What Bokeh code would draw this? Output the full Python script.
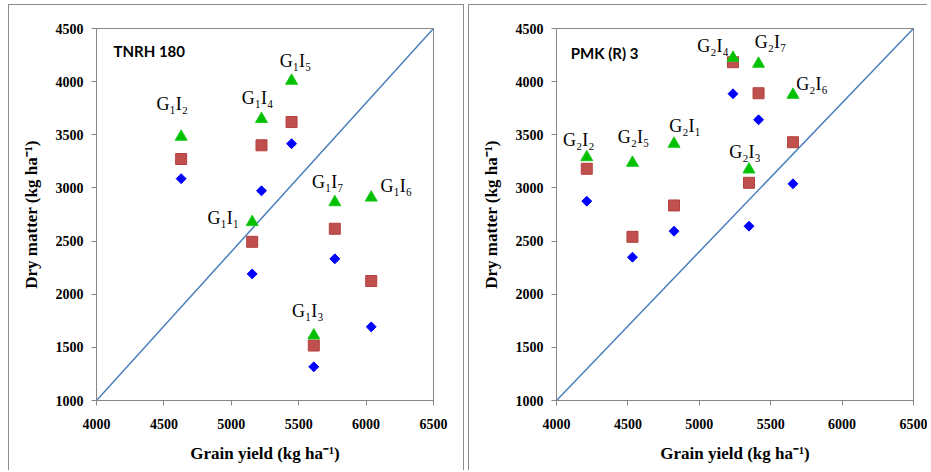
from bokeh.plotting import figure
from bokeh.layouts import row
from bokeh.models import ColumnDataSource, Label, Range1d, FixedTicker
from bokeh.embed import file_html
from bokeh.resources import INLINE
from bokeh.core.properties import value

# ---- data ----
x_lim = [4000, 6500]
y_lim = [1000, 4500]
x_ticks = [4000, 4500, 5000, 5500, 6000, 6500]
y_ticks = [1000, 1500, 2000, 2500, 3000, 3500, 4000, 4500]

g1_labels = ["G\u2081I\u2081", "G\u2081I\u2082", "G\u2081I\u2083", "G\u2081I\u2084",
             "G\u2081I\u2085", "G\u2081I\u2086", "G\u2081I\u2087"]
g1_yield = [5155, 4628, 5612, 5224, 5447, 6038, 5768]
g1_dm_tri = [2678, 3481, 1612, 3648, 4008, 2909, 2865]
g1_dm_sq = [2493, 3272, 1517, 3401, 3620, 2124, 2616]
g1_dm_dia = [2191, 3087, 1317, 2973, 3416, 1693, 2333]

g2_labels = ["G\u2082I\u2081", "G\u2082I\u2082", "G\u2082I\u2083", "G\u2082I\u2084",
             "G\u2082I\u2085", "G\u2082I\u2086", "G\u2082I\u2087"]
g2_yield = [4823, 4212, 5348, 5236, 4532, 5656, 5415]
g2_dm_tri = [3415, 3289, 3173, 4224, 3236, 3876, 4168]
g2_dm_sq = [2835, 3180, 3048, 4183, 2540, 3430, 3891]
g2_dm_dia = [2593, 2875, 2640, 3886, 2348, 3039, 3641]

# label pixel offsets (style)
g1_dx = [-29, -9, -6, -4, 4, 25, -7]
g1_dy = [-4, -33, -24, -21, -20, -12, -20]
g2_dx = [11, -8, -4, -20, 1, 19, 12]
g2_dy = [-18, -17, -18, -12, -26, -11, -22]

AXIS_COL = "#868686"
SERIF = "Liberation Serif"


def make_panel(name, name_xy, yld, tri, sq, dia, labels, dx, dy,
               width, height, mbl, mbr, mbt, mbb, styles):
    p = figure(width=width, height=height,
               x_range=Range1d(x_lim[0], x_lim[1]), y_range=Range1d(y_lim[0], y_lim[1]),
               output_backend="svg", toolbar_location=None,
               min_border_left=mbl, min_border_right=mbr,
               min_border_top=mbt, min_border_bottom=mbb)
    p.title = None
    p.xgrid.visible = False
    p.ygrid.visible = False
    p.outline_line_color = AXIS_COL
    p.outline_line_width = 1
    p.background_fill_color = "white"
    p.border_fill_color = "white"

    p.xaxis.ticker = FixedTicker(ticks=x_ticks)
    p.yaxis.ticker = FixedTicker(ticks=y_ticks)
    for ax in (p.xaxis[0], p.yaxis[0]):
        ax.axis_line_color = AXIS_COL
        ax.major_tick_line_color = AXIS_COL
        ax.major_tick_out = 5
        ax.major_tick_in = 0
        ax.minor_tick_line_color = None
        ax.major_label_text_font = SERIF
        ax.major_label_text_font_style = "bold"
        ax.major_label_text_font_size = "14px"
        ax.major_label_text_color = "black"
        ax.axis_label_text_font = SERIF
        ax.axis_label_text_font_style = "bold"
        ax.axis_label_text_font_size = "17px"
        ax.axis_label_text_color = "black"
    p.xaxis.major_label_standoff = 13
    p.yaxis.major_label_standoff = 8
    p.xaxis.axis_label_standoff = 12
    p.yaxis.axis_label_standoff = 12
    p.xaxis.axis_label = "Grain yield (kg ha\u207b\u00b9)"
    p.yaxis.axis_label = "Dry matter (kg ha\u207b\u00b9)"

    # diagonal reference line across the plot area
    p.line(x=x_lim, y=y_lim, line_color="#4a7ebb", line_width=1.5)

    src = ColumnDataSource(dict(x=yld, tri=tri, sq=sq, dia=dia, lab=labels, dx=dx, dy=dy))
    p.scatter(x="x", y="dia", source=src, marker="square", angle=0.785398, size=7,
              fill_color="#0000ff", line_color="#0000ff")
    p.scatter(x="x", y="sq", source=src, marker="square", size=11,
              fill_color="#c0504d", line_color="#b4413e")
    p.scatter(x="x", y="tri", source=src, marker="triangle", size=12,
              fill_color="#00c000", line_color="#1ec81e")
    p.text(x="x", y="tri", text="lab", x_offset="dx", y_offset="dy", source=src,
           text_font=value(SERIF), text_font_size="18px", text_color="black",
           text_align="center", text_baseline="middle")

    p.add_layout(Label(x=name_xy[0], y=name_xy[1], text=name, text_font="Lato",
                       text_font_style="bold", text_font_size="15px",
                       text_color="black", text_baseline="middle", text_align="left"))
    p.styles = styles
    return p


border = "1px solid #8c8c8c"
# left panel: host border at (8,4); frame 96..433 x 22..401
p1 = make_panel("TNRH 180", (4126, 4290), g1_yield, g1_dm_tri, g1_dm_sq, g1_dm_dia,
                g1_labels, g1_dx, g1_dy,
                width=456, height=466, mbl=87, mbr=32, mbt=17, mbb=70,
                styles={"border-left": border, "border-top": border, "border-right": border,
                        "margin-top": "4px", "margin-left": "8px"})
# right panel: host border at (470,4); frame 558..915 x 28..400
p2 = make_panel("PMK (R) 3", (4100, 4270), g2_yield, g2_dm_tri, g2_dm_sq, g2_dm_dia,
                g2_labels, g2_dx, g2_dy,
                width=459, height=466, mbl=87, mbr=15, mbt=23, mbb=71,
                styles={"border-left": border, "border-top": border, "margin-top": "4px"})

layout = row(p1, p2, spacing=4)
open("out.html", "w").write(file_html(layout, INLINE))
